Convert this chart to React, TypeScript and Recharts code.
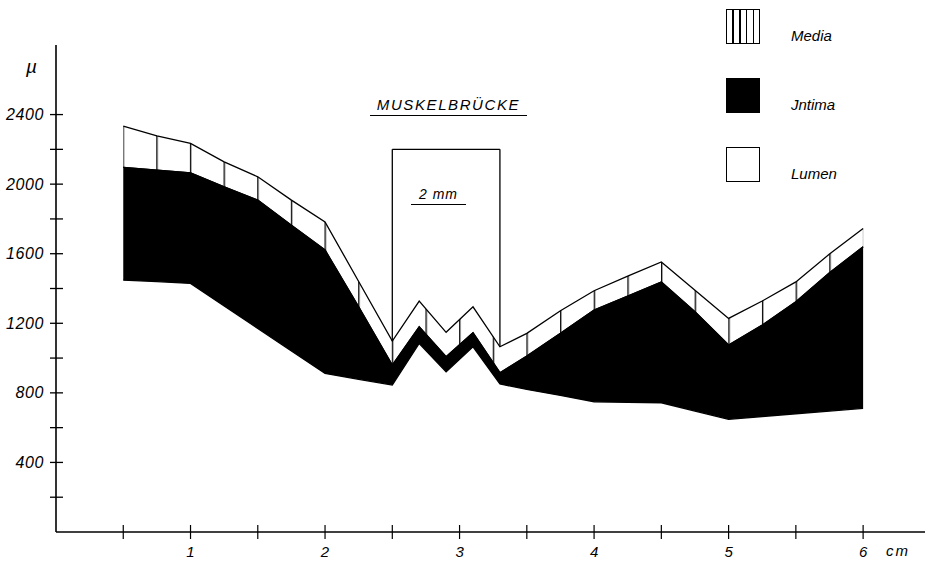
import React from 'react';
import { ComposedChart, Area, XAxis, YAxis, ReferenceLine } from 'recharts';

// positions along the vessel (cm)
const positions = [0.5, 0.75, 1.0, 1.25, 1.5, 1.75, 2.0, 2.25, 2.5, 2.7, 2.9, 3.1, 3.3, 3.5, 3.75, 4.0, 4.25, 4.5, 4.75, 5.0, 5.25, 5.5, 5.75, 6.0];

// outer edge of the media (µ)
const mediaTop = [2333, 2278, 2234, 2128, 2042, 1908, 1783, 1440, 1098, 1328, 1148, 1295, 1065, 1142, 1272, 1387, 1471, 1553, 1390, 1228, 1328, 1438, 1598, 1745];

// intima / media border (µ)
const intimaTop = [2096, 2080, 2065, 1984, 1908, 1764, 1621, 1295, 960, 1180, 1008, 1146, 916, 1011, 1142, 1276, 1356, 1438, 1266, 1075, 1190, 1324, 1490, 1640];

// lumen / intima border (µ)
const lumenEdge = [1448, 1440, 1429, 1300, 1170, 1041, 912, 878, 845, 1084, 921, 1065, 851, 820, 785, 749, 746, 743, 695, 648, 664, 680, 695, 711];

const xTicks = [0.5, 1, 1.5, 2, 2.5, 3, 3.5, 4, 4.5, 5, 5.5, 6];
const yTicks = [200, 400, 600, 800, 1000, 1200, 1400, 1600, 1800, 2000, 2200, 2400];

// muscle bridge box
const bridgeStart = 2.5;
const bridgeEnd = 3.3;
const bridgeTop = 2200;

const legendItems = ['Media', 'Jntima', 'Lumen'];

const data = positions.map((cm, i) => ({
  cm,
  media: mediaTop[i],
  intima: intimaTop[i],
  lumen: lumenEdge[i],
}));

const mediaAt = (cm: number) => data.find((d) => d.cm === cm)!.media;

const FONT = '"Liberation Sans", Arial, sans-serif';

const YTick = (props: any) => {
  const { x, y, payload } = props;
  const axisX = x + 8;
  return (
    <g>
      <line x1={axisX - 6} x2={axisX + 7} y1={y} y2={y} stroke="#000" strokeWidth={1.3} />
      {payload.value % 400 === 0 && (
        <text
          x={axisX - 12}
          y={y + 5.5}
          textAnchor="end"
          fontSize={16}
          letterSpacing={0.6}
          fontStyle="italic"
          fontFamily={FONT}
          fill="#000"
        >
          {payload.value}
        </text>
      )}
    </g>
  );
};

const XTick = (props: any) => {
  const { x, y, payload } = props;
  const axisY = y - 8;
  return (
    <g>
      <line x1={x} x2={x} y1={axisY - 7} y2={axisY + 7} stroke="#000" strokeWidth={1.2} />
      {Number.isInteger(payload.value) && (
        <text x={x} y={axisY + 25} textAnchor="middle" fontSize={15} fontStyle="italic" fontFamily={FONT} fill="#000">
          {payload.value}
        </text>
      )}
    </g>
  );
};

const LegendBox = () => (
  <div style={{ position: 'absolute', left: 726, top: 9, fontFamily: FONT, fontStyle: 'italic', fontSize: 15 }}>
    {legendItems.map((name, i) => (
      <div key={name} style={{ display: 'flex', alignItems: 'flex-end', height: 35, marginBottom: i < 2 ? 34 : 0 }}>
        <div
          style={{
            width: 34,
            height: 35,
            boxSizing: 'border-box',
            border: '1.5px solid #000',
            background:
              name === 'Jntima'
                ? '#000'
                : name === 'Media'
                ? 'repeating-linear-gradient(90deg, #fff 0px, #fff 5.5px, #000 5.5px, #000 6.8px)'
                : '#fff',
          }}
        />
        <span style={{ marginLeft: 31, lineHeight: '15px', marginBottom: 1 }}>{name}</span>
      </div>
    ))}
  </div>
);

const App: React.FC = () => {
  return (
    <div style={{ position: 'absolute', left: 0, top: 0, width: 927, height: 566, background: '#fff' }}>
      <ComposedChart width={927} height={566} data={data} margin={{ top: 45, right: 2, bottom: 4, left: 0 }}>
        <defs>
          <pattern id="mediaHatch" patternUnits="userSpaceOnUse" x={122.6} y={0} width={33.65} height={10}>
            <rect x={0} y={0} width={33.65} height={10} fill="#fff" />
            <line x1={0.7} x2={0.7} y1={0} y2={10} stroke="#000" strokeWidth={1.3} />
          </pattern>
        </defs>
        <XAxis
          dataKey="cm"
          type="number"
          domain={[0, 6.46]}
          ticks={xTicks}
          tick={<XTick />}
          tickLine={false}
          height={30}
          axisLine={{ stroke: '#000', strokeWidth: 1.6 }}
          allowDataOverflow
        />
        <YAxis
          type="number"
          domain={[0, 2800]}
          ticks={yTicks}
          tick={<YTick />}
          tickLine={false}
          width={56}
          axisLine={{ stroke: '#000', strokeWidth: 1.6 }}
          allowDataOverflow
        />
        <Area
          type="linear"
          dataKey={(d: any) => [d.intima, d.media]}
          fill="url(#mediaHatch)"
          fillOpacity={1}
          stroke="#000"
          strokeWidth={1.3}
          isAnimationActive={false}
        />
        <Area
          type="linear"
          dataKey={(d: any) => [d.lumen, d.intima]}
          fill="#000"
          fillOpacity={1}
          stroke="#000"
          strokeWidth={1.3}
          isAnimationActive={false}
        />
        <ReferenceLine segment={[{ x: bridgeStart, y: mediaAt(bridgeStart) }, { x: bridgeStart, y: bridgeTop }]} stroke="#000" strokeWidth={1.3} />
        <ReferenceLine segment={[{ x: bridgeStart, y: bridgeTop }, { x: bridgeEnd, y: bridgeTop }]} stroke="#000" strokeWidth={1.3} />
        <ReferenceLine segment={[{ x: bridgeEnd, y: bridgeTop }, { x: bridgeEnd, y: mediaAt(bridgeEnd) }]} stroke="#000" strokeWidth={1.3} />
      </ComposedChart>

      <LegendBox />
      <div style={{ position: 'absolute', left: 26, top: 56, fontFamily: FONT, fontStyle: 'italic', fontSize: 19 }}>µ</div>
      <div style={{ position: 'absolute', left: 886, top: 542, fontFamily: FONT, fontStyle: 'italic', fontSize: 15, letterSpacing: 2 }}>cm</div>
      <div
        style={{
          position: 'absolute',
          left: 370,
          top: 96,
          width: 157,
          textAlign: 'center',
          fontFamily: FONT,
          fontStyle: 'italic',
          fontSize: 15,
          letterSpacing: 1.6,
          borderBottom: '1.5px solid #000',
          paddingBottom: 2,
        }}
      >
        MUSKELBRÜCKE
      </div>
      <div
        style={{
          position: 'absolute',
          left: 411,
          top: 186,
          width: 55,
          textAlign: 'center',
          fontFamily: FONT,
          fontStyle: 'italic',
          fontSize: 14,
          letterSpacing: 1,
          borderBottom: '1.5px solid #000',
          paddingBottom: 2,
        }}
      >
        2 mm
      </div>
    </div>
  );
};

export default App;
